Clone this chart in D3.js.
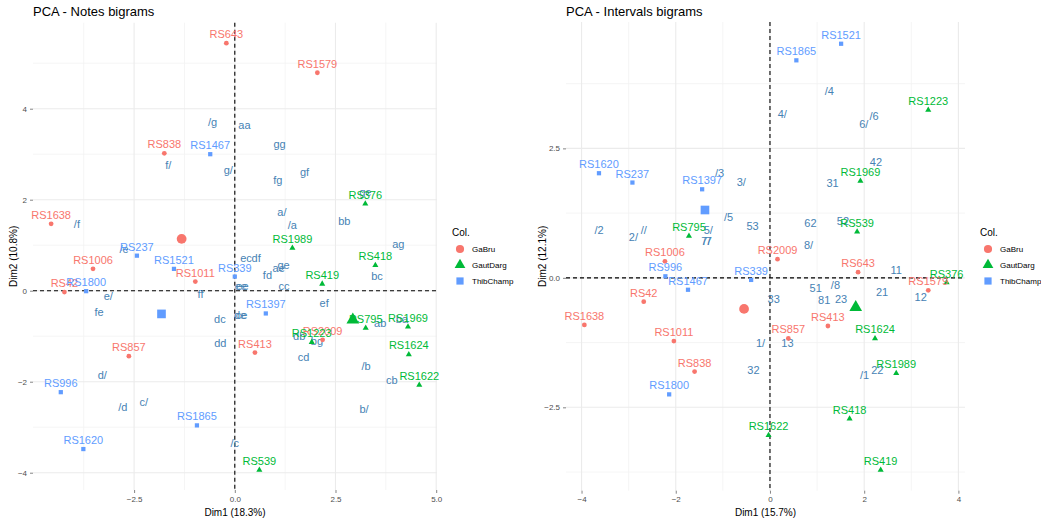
<!DOCTYPE html>
<html>
<head>
<meta charset="utf-8">
<script src="https://cdn.jsdelivr.net/npm/d3@7"></script>
<style>
  body { margin: 0; background: #fff; }
  svg { font-family: "Liberation Sans", Arial, sans-serif; }
</style>
</head>
<body>
<div id="chart"></div>
<script>
const groups = ['GaBru', 'GautDarg', 'ThibChamp'];
const groupColors = ['#F8766D', '#00BA38', '#619CFF'];
const varColor = '#4682B4';

// PCA - Notes bigrams : individuals
const notesIndNames = ['RS643', 'RS1579', 'RS838', 'RS1638', 'RS1006', 'RS42', 'RS1011', 'RS857', 'RS413', 'RS2009',
  'RS376', 'RS1989', 'RS418', 'RS419', 'RS795', 'RS1969', 'RS1624', 'RS1622', 'RS539', 'RS1223',
  'RS1467', 'RS237', 'RS1521', 'RS1800', 'RS339', 'RS1397', 'RS996', 'RS1865', 'RS1620'];
const notesIndGroup = [0, 0, 0, 0, 0, 0, 0, 0, 0, 0,
  1, 1, 1, 1, 1, 1, 1, 1, 1, 1,
  2, 2, 2, 2, 2, 2, 2, 2, 2];
const notesIndX = [-0.21, 2.05, -1.75, -4.56, -3.52, -4.23, -0.98, -2.63, 0.50, 2.18,
  3.24, 1.43, 3.49, 2.17, 3.25, 4.30, 4.32, 4.58, 0.61, 1.91,
  -0.61, -2.43, -1.51, -3.69, 0.00, 0.77, -4.32, -0.94, -3.76];
const notesIndY = [5.44, 4.79, 3.02, 1.47, 0.48, -0.03, 0.20, -1.44, -1.36, -1.08,
  1.91, 0.94, 0.56, 0.15, -0.82, -0.79, -1.40, -2.07, -3.94, -1.13,
  3.00, 0.77, 0.48, -0.01, 0.31, -0.50, -2.23, -2.96, -3.48];
const notesCentX = [-1.32, 2.93, -1.82];
const notesCentY = [1.14, -0.64, -0.51];

// PCA - Notes bigrams : variables
const notesVarNames = ['/g', 'aa', 'f/', 'g/', 'gg', 'fg', 'gf', 'ge', 'a/', '/a', 'bb', 'ag', '/f', '/e',
  'ec', 'df', 'fd', 'ae', 'ge', 'cc', 'ee', 'ee', 'ff', 'e/', 'fe', 'dc', 'de', 'ce', 'dd', 'ef',
  'ab', 'ba', 'bc', 'db', 'bg', 'cd', '/b', 'cb', 'b/', 'd/', '/d', 'c/', '/c'];
const notesVarX = [-0.55, 0.24, -1.65, -0.16, 1.11, 1.07, 1.73, 3.24, 1.17, 1.43, 2.72, 4.06, -3.92, -2.75,
  0.28, 0.53, 0.81, 1.09, 1.21, 1.22, 0.15, 0.19, -0.85, -3.14, -3.37, -0.37, 0.13, 0.17, -0.36, 2.22,
  3.61, 4.15, 3.53, 1.60, 2.04, 1.71, 3.26, 3.90, 3.21, -3.29, -2.78, -2.26, 0.00];
const notesVarY = [3.70, 3.64, 2.75, 2.64, 3.22, 2.43, 2.61, 2.16, 1.73, 1.43, 1.53, 1.03, 1.47, 0.92,
  0.71, 0.71, 0.35, 0.50, 0.56, 0.09, 0.09, 0.09, -0.08, -0.12, -0.48, -0.62, -0.54, -0.54, -1.16, -0.28,
  -0.72, -0.63, 0.32, -1.00, -1.10, -1.46, -1.66, -1.96, -2.61, -1.86, -2.56, -2.46, -3.34];

// PCA - Intervals bigrams : individuals
const intIndNames = ['RS1006', 'RS42', 'RS1638', 'RS1011', 'RS838', 'RS2009', 'RS643', 'RS1579', 'RS413', 'RS857',
  'RS795', 'RS1223', 'RS1969', 'RS539', 'RS376', 'RS1624', 'RS1989', 'RS418', 'RS419', 'RS1622',
  'RS1521', 'RS1865', 'RS1620', 'RS237', 'RS1397', 'RS996', 'RS1467', 'RS339', 'RS1800'];
const intIndGroup = [0, 0, 0, 0, 0, 0, 0, 0, 0, 0,
  1, 1, 1, 1, 1, 1, 1, 1, 1, 1,
  2, 2, 2, 2, 2, 2, 2, 2, 2];
const intIndX = [-2.23, -2.68, -3.94, -2.04, -1.60, 0.16, 1.87, 3.36, 1.23, 0.39,
  -1.72, 3.36, 1.92, 1.85, 3.75, 2.23, 2.68, 1.69, 2.35, -0.03,
  1.51, 0.56, -3.63, -2.92, -1.44, -2.22, -1.74, -0.40, -2.14];
const intIndY = [0.32, -0.46, -0.91, -1.22, -1.81, 0.36, 0.11, -0.24, -0.93, -1.17,
  0.81, 3.24, 1.87, 0.89, -0.09, -1.17, -1.84, -2.72, -3.71, -3.04,
  4.52, 4.20, 2.02, 1.84, 1.71, 0.03, -0.23, -0.04, -2.25];
const intCentX = [-0.55, 1.82, -1.38];
const intCentY = [-0.60, -0.57, 1.31];

// PCA - Intervals bigrams : variables
const intVarNames = ['/4', '4/', '/6', '6/', '42', '31', '62', '52', '8/', '/3', '3/', '/5', '53', '/2',
  '2/', '//', '5/', '7/', '/7', '33', '1/', '13', '32', '11', '51', '/8', '81', '23', '21', '12', '/1', '22'];
const intVarX = [1.26, 0.26, 2.21, 1.99, 2.25, 1.33, 0.86, 1.55, 0.82, -1.07, -0.61, -0.88, -0.37, -3.63,
  -2.90, -2.68, -1.31, -1.36, -1.33, 0.08, -0.20, 0.37, -0.35, 2.68, 0.97, 1.39, 1.15, 1.51, 2.38, 3.20, 2.01, 2.28];
const intVarY = [3.61, 3.17, 3.12, 2.97, 2.23, 1.83, 1.06, 1.10, 0.64, 2.03, 1.84, 1.17, 0.99, 0.92,
  0.79, 0.92, 0.92, 0.71, 0.71, -0.42, -1.27, -1.27, -1.78, 0.15, -0.19, -0.15, -0.44, -0.41, -0.28, -0.38, -1.88, -1.79];

const notesXTicks = [-2.5, 0, 2.5, 5];
const notesYTicks = [-4, -2, 0, 2, 4];
const intXTicks = [-4, -2, 0, 2, 4];
const intYTicks = [-2.5, 0, 2.5];

const svg = d3.select('#chart').append('svg')
  .attr('width', 1041)
  .attr('height', 522);

const symbolTypes = [d3.symbolCircle, d3.symbolTriangle, d3.symbolSquare];

function drawPanel(cfg) {
  const x = d3.scaleLinear().domain(cfg.xDomain).range([cfg.left, cfg.right]);
  const y = d3.scaleLinear().domain(cfg.yDomain).range([cfg.bottom, cfg.top]);
  const g = svg.append('g');

  // minor grid
  g.selectAll('.vminor').data(cfg.xMinor).enter().append('line')
    .attr('x1', d => x(d)).attr('x2', d => x(d))
    .attr('y1', cfg.top).attr('y2', cfg.bottom)
    .attr('stroke', '#f3f3f3').attr('stroke-width', 0.8);
  g.selectAll('.hminor').data(cfg.yMinor).enter().append('line')
    .attr('y1', d => y(d)).attr('y2', d => y(d))
    .attr('x1', cfg.left).attr('x2', cfg.right)
    .attr('stroke', '#f3f3f3').attr('stroke-width', 0.8);
  // major grid
  g.selectAll('.vmajor').data(cfg.xTicks).enter().append('line')
    .attr('x1', d => x(d)).attr('x2', d => x(d))
    .attr('y1', cfg.top).attr('y2', cfg.bottom)
    .attr('stroke', '#ebebeb').attr('stroke-width', 1.1);
  g.selectAll('.hmajor').data(cfg.yTicks).enter().append('line')
    .attr('y1', d => y(d)).attr('y2', d => y(d))
    .attr('x1', cfg.left).attr('x2', cfg.right)
    .attr('stroke', '#ebebeb').attr('stroke-width', 1.1);

  // axes
  const xAxis = g.append('g')
    .attr('transform', `translate(0,${cfg.bottom})`)
    .call(d3.axisBottom(x).tickValues(cfg.xTicks).tickFormat(cfg.xFormat).tickSize(3).tickPadding(3));
  const yAxis = g.append('g')
    .attr('transform', `translate(${cfg.left},0)`)
    .call(d3.axisLeft(y).tickValues(cfg.yTicks).tickFormat(cfg.yFormat).tickSize(3).tickPadding(3));
  [xAxis, yAxis].forEach(a => {
    a.select('.domain').remove();
    a.selectAll('.tick line').attr('stroke', '#333').attr('stroke-width', 0.6);
    a.selectAll('.tick text').attr('fill', '#4d4d4d').attr('font-size', 8)
      .attr('font-family', '"Liberation Sans", Arial, sans-serif');
  });

  // zero lines
  g.append('line')
    .attr('x1', x(0)).attr('x2', x(0)).attr('y1', cfg.top).attr('y2', cfg.bottom)
    .attr('stroke', '#000').attr('stroke-width', 1.1).attr('stroke-dasharray', '4,3');
  g.append('line')
    .attr('y1', y(0)).attr('y2', y(0)).attr('x1', cfg.left).attr('x2', cfg.right)
    .attr('stroke', '#000').attr('stroke-width', 1.1).attr('stroke-dasharray', '4,3');

  // variable labels
  g.selectAll('.var').data(cfg.varNames).enter().append('text')
    .attr('x', (d, i) => x(cfg.varX[i]))
    .attr('y', (d, i) => y(cfg.varY[i]))
    .attr('dy', '0.35em')
    .attr('text-anchor', 'middle')
    .attr('font-size', 11)
    .attr('fill', varColor)
    .text(d => d);

  // individuals
  g.selectAll('.ind').data(cfg.indNames).enter().append('path')
    .attr('transform', (d, i) => `translate(${x(cfg.indX[i])},${y(cfg.indY[i])})`)
    .attr('d', (d, i) => d3.symbol().type(symbolTypes[cfg.indGroup[i]]).size(cfg.indGroup[i] === 1 ? 16 : 18)())
    .attr('fill', (d, i) => groupColors[cfg.indGroup[i]]);
  g.selectAll('.indlab').data(cfg.indNames).enter().append('text')
    .attr('x', (d, i) => x(cfg.indX[i]))
    .attr('y', (d, i) => y(cfg.indY[i]) - 5)
    .attr('text-anchor', 'middle')
    .attr('font-size', 11)
    .attr('fill', (d, i) => groupColors[cfg.indGroup[i]])
    .text(d => d);

  // group centroids
  g.selectAll('.cent').data(groups).enter().append('path')
    .attr('transform', (d, i) => `translate(${x(cfg.centX[i])},${y(cfg.centY[i])})`)
    .attr('d', (d, i) => d3.symbol().type(symbolTypes[i]).size(i === 1 ? 70 : 75)())
    .attr('fill', (d, i) => groupColors[i]);

  // titles
  svg.append('text')
    .attr('x', cfg.left).attr('y', 16)
    .attr('font-size', 13).attr('fill', '#000')
    .text(cfg.title);
  svg.append('text')
    .attr('x', (cfg.left + cfg.right) / 2).attr('y', 516)
    .attr('text-anchor', 'middle').attr('font-size', 10)
    .text(cfg.xTitle);
  svg.append('text')
    .attr('transform', `translate(${cfg.yTitleX},${(cfg.top + cfg.bottom) / 2}) rotate(-90)`)
    .attr('text-anchor', 'middle').attr('font-size', 10)
    .text(cfg.yTitle);

  // legend
  const lg = svg.append('g').attr('transform', `translate(${cfg.legendX},0)`);
  lg.append('text').attr('x', 0).attr('y', 236).attr('font-size', 10).text('Col.');
  groups.forEach((name, i) => {
    const cy = 249 + i * 16;
    lg.append('path')
      .attr('transform', `translate(8,${cy})`)
      .attr('d', d3.symbol().type(symbolTypes[i]).size(i === 1 ? 50 : 52)())
      .attr('fill', groupColors[i]);
    lg.append('text').attr('x', 20).attr('y', cy + 3).attr('font-size', 8).text(name);
  });
}

drawPanel({
  title: 'PCA - Notes bigrams',
  xTitle: 'Dim1 (18.3%)', yTitle: 'Dim2 (10.8%)', yTitleX: 17,
  left: 33, right: 437, top: 22.7, bottom: 490,
  xDomain: [-5.01, 5.02], yDomain: [-4.38, 5.89],
  xTicks: notesXTicks, yTicks: notesYTicks,
  xMinor: [-3.75, -1.25, 1.25, 3.75], yMinor: [-3, -1, 1, 3, 5],
  xFormat: d3.format('.1f'), yFormat: d3.format('d'),
  indNames: notesIndNames, indGroup: notesIndGroup, indX: notesIndX, indY: notesIndY,
  centX: notesCentX, centY: notesCentY,
  varNames: notesVarNames, varX: notesVarX, varY: notesVarY,
  legendX: 452
});

drawPanel({
  title: 'PCA - Intervals bigrams',
  xTitle: 'Dim1 (15.7%)', yTitle: 'Dim2 (12.1%)', yTitleX: 546,
  left: 566, right: 965, top: 22, bottom: 490.7,
  xDomain: [-4.33, 4.14], yDomain: [-4.11, 4.94],
  xTicks: intXTicks, yTicks: intYTicks,
  xMinor: [-3, -1, 1, 3], yMinor: [-3.75, -1.25, 1.25, 3.75],
  xFormat: d3.format('d'), yFormat: d3.format('.1f'),
  indNames: intIndNames, indGroup: intIndGroup, indX: intIndX, indY: intIndY,
  centX: intCentX, centY: intCentY,
  varNames: intVarNames, varX: intVarX, varY: intVarY,
  legendX: 980
});
</script>
</body>
</html>
